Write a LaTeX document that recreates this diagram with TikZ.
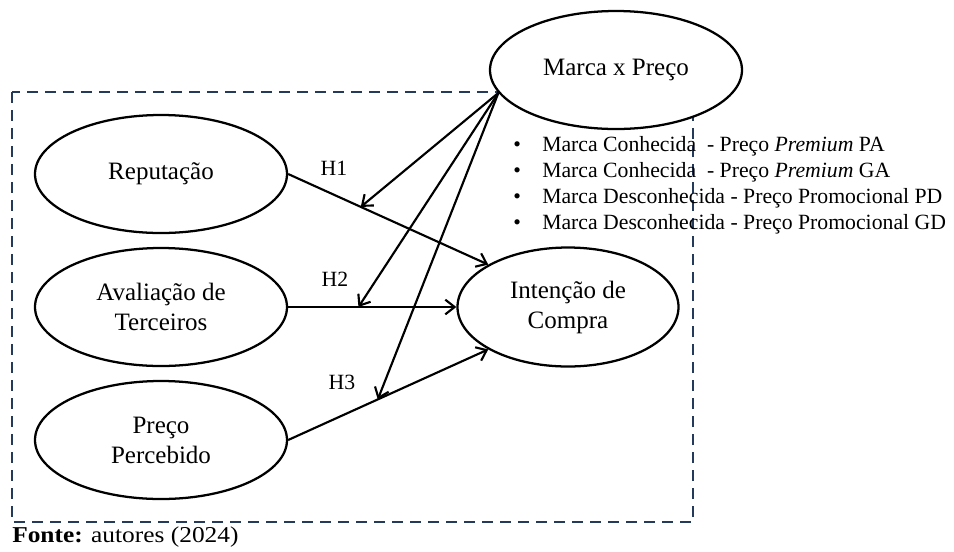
\documentclass[tikz,border=0pt]{standalone}
\usepackage{fontspec}
\setmainfont{Liberation Serif}
\usepackage{xcolor}
\usepackage{tikz}
\usetikzlibrary{arrows.meta,shapes.geometric}
\definecolor{framecol}{RGB}{36,58,90}

\begin{document}
\begin{tikzpicture}[x=0.75pt, y=-0.75pt, >={Straight Barb[length=7pt,width=11pt]},
  font=\fontsize{18.75}{22.5}\selectfont,
  latent/.style={draw, ellipse, line width=1.7pt, fill=white, align=center, inner sep=0pt, minimum width=189pt, minimum height=88.5pt},
  hyp/.style={font=\fontsize{16.3}{19.5}\selectfont},
  link/.style={->, line width=1.6pt},
  frame/.style={draw=framecol, line width=1.9pt, dash pattern=on 8.25pt off 5.25pt}]
\useasboundingbox (0,0) rectangle (954,551);
\draw[frame] (12,92) rectangle (693,522);
\node[latent] (mp) at (616,70) {Marca x Preço};
\node[latent] (rep) at (161,174) {Reputação};
\node[latent] (ava) at (161,307) {Avaliação de\\Terceiros};
\node[latent] (pre) at (161,440) {Preço\\Percebido};
\node[latent, minimum width=165.75pt, minimum height=89.25pt] (int) at (568,307) {Intenção de\\Compra};
\node[hyp, anchor=north west, inner sep=0pt, align=left] (lst) at (513,136) {%
  \makebox[21.75pt][l]{\textbullet}Marca Conhecida~ - Preço \textit{Premium} PA\\
  \makebox[21.75pt][l]{\textbullet}Marca Conhecida~ - Preço \textit{Premium} GA\\
  \makebox[21.75pt][l]{\textbullet}Marca Desconhecida - Preço Promocional PD\\
  \makebox[21.75pt][l]{\textbullet}Marca Desconhecida - Preço Promocional GD};
\node[hyp] (h1) at (334,168) {H1};
\node[hyp] (h2) at (335,279) {H2};
\node[hyp] (h3) at (342,382) {H3};
\draw[link] (rep.east) -- (int.152) coordinate[pos=0.363] (t1);
\draw[link] (ava.east) -- (int.west) coordinate[pos=0.418] (t2);
\draw[link] (pre.east) -- (int.208) coordinate[pos=0.448] (t3);
\foreach \t in {t1,t2,t3}
  \draw[link] (mp.191) -- (\t);
\node[anchor=base west, inner sep=0pt, font=\fontsize{17}{20}\selectfont] (src) at (12,542) {\scalebox{1.12}[1]{\textbf{Fonte:} autores (2024)}};
\end{tikzpicture}
\end{document}
